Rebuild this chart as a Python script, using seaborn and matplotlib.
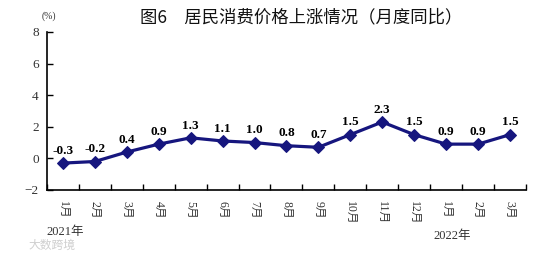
import matplotlib
matplotlib.use("Agg")
import matplotlib.pyplot as plt
import seaborn as sns
import pandas as pd

months = ['1月', '2月', '3月', '4月', '5月', '6月', '7月', '8月', '9月',
          '10月', '11月', '12月', '1月', '2月', '3月']
cpi = [-0.3, -0.2, 0.4, 0.9, 1.3, 1.1, 1.0, 0.8, 0.7, 1.5, 2.3, 1.5, 0.9, 0.9, 1.5]
yticks = [-2, 0, 2, 4, 6, 8]

sns.set_theme(style='ticks')
plt.rcParams['font.family'] = ['Liberation Serif', 'Noto Sans CJK SC']
plt.rcParams['axes.unicode_minus'] = True

df = pd.DataFrame({'idx': range(len(months)), 'cpi': cpi})

fig = plt.figure(figsize=(5.53, 2.62), dpi=100)
ax = fig.add_axes([0.085, 0.275, 0.866, 0.603])

navy = '#16167e'
sns.lineplot(data=df, x='idx', y='cpi', ax=ax, color=navy, linewidth=2.3,
             marker='D', markersize=6, markeredgecolor=navy, markerfacecolor=navy)

for i, v in enumerate(cpi):
    ax.annotate(f'{v:.1f}', (i, v), xytext=(0, 4.5), textcoords='offset points',
                ha='center', va='bottom', fontsize=9.5, fontweight='bold',
                family='Liberation Serif', color='black')

ax.set_xlim(-0.5, len(months) - 0.5)
ax.set_ylim(-2, 8)
ax.set_yticks(yticks)
ax.set_yticklabels([f'\u2212{abs(t)}' if t < 0 else str(t) for t in yticks],
                   fontsize=9.5, color='#333333')
ax.set_xticks([i + 0.5 for i in range(-1, len(months))], minor=False)
ax.set_xticklabels([])
ax.set_xticks(range(len(months)), minor=True)
ax.set_xticklabels(months, minor=True, rotation=-90, fontsize=8.5, color='#333333',
                   family=['Liberation Serif', 'Noto Sans CJK SC'])
ax.tick_params(axis='x', which='major', direction='in', length=4, width=1, color='black')
ax.tick_params(axis='x', which='minor', length=0, pad=8)
ax.tick_params(axis='y', direction='in', length=4, width=1, color='black', pad=6)
ax.set_xlabel('')
ax.set_ylabel('')
for s in ['top', 'right']:
    ax.spines[s].set_visible(False)
for s in ['left', 'bottom']:
    ax.spines[s].set_color('black')
    ax.spines[s].set_linewidth(1.2)

fig.text(0.545, 0.935, '图6　居民消费价格上涨情况（月度同比）', ha='center', va='center',
         fontsize=12.5, family=['Noto Sans CJK SC'], color='#111111')
fig.text(0.088, 0.94, '(%)', ha='center', va='center', fontsize=7, color='#333333')
fig.text(0.117, 0.115, '2021年', ha='center', va='center', fontsize=9, color='#333333',
         family=['Liberation Serif', 'Noto Sans CJK SC'])
fig.text(0.818, 0.1, '2022年', ha='center', va='center', fontsize=9, color='#333333',
         family=['Liberation Serif', 'Noto Sans CJK SC'])
fig.text(0.094, 0.065, '大数跨境', ha='center', va='center', fontsize=8.5, color='#cfcfcf',
         family=['Noto Sans CJK SC'])

fig.savefig('out.png', dpi=100)
